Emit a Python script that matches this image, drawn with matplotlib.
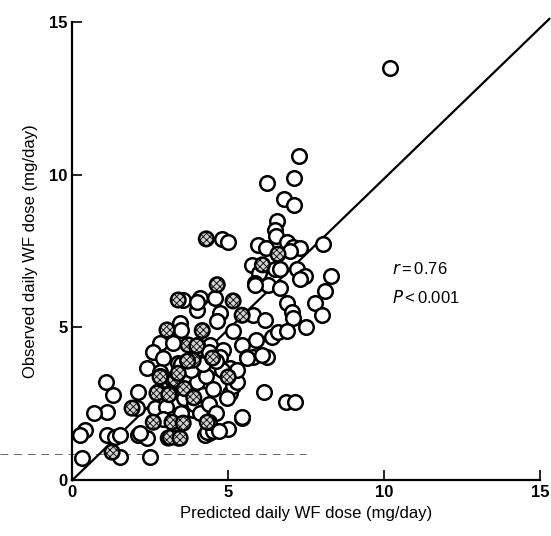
import matplotlib
matplotlib.use("Agg")
import matplotlib.pyplot as plt

# open circles: predicted vs observed (mg/day)
open_x = [10.2, 7.28, 6.25, 7.1, 6.8, 7.1, 6.57, 6.5, 6.54, 6.9, 7.08, 7.3, 5.96, 6.2, 7.0, 8.05,
          5.77, 6.0, 6.5, 6.67, 7.2, 7.47, 5.87, 6.28, 4.8, 5.0, 6.15, 6.86, 7.15, 5.45, 5.0,
          4.4, 4.26, 5.06, 5.16, 4.97, 5.3, 5.87, 6.67, 7.3, 4.1, 4.58, 4.0, 4.74, 5.8, 6.19,
          6.9, 7.05, 7.08, 4.65, 5.16, 6.4, 6.6, 6.9, 5.45, 4.42, 4.84, 4.74, 5.6, 5.8, 6.25,
          5.06, 4.52, 3.56, 4.0, 3.46, 3.5, 2.82, 3.24, 4.0, 2.6, 2.92, 2.4, 2.82, 3.4, 1.31,
          2.1, 3.2, 1.12, 2.08, 2.66, 3.14, 3.56, 3.88, 0.42, 0.26, 1.12, 1.38, 1.54, 2.1, 2.4,
          1.54, 0.32, 2.5, 2.18, 4.33, 4.52, 5.45, 8.3, 8.1, 7.8, 8.0, 7.5, 1.1, 0.7,
          3.0, 3.2, 3.4, 3.6, 3.8, 4.0, 4.2, 3.3, 3.6, 3.9, 4.1, 4.4, 3.0, 2.8, 3.5, 3.8,
          4.3, 4.5, 4.6, 4.4, 4.7, 3.2, 3.5, 2.9, 4.2, 4.4, 4.8, 4.6, 5.3, 5.6, 5.9, 6.1]
open_y = [13.5, 10.6, 9.74, 9.9, 9.2, 9.0, 8.5, 8.2, 8.0, 7.8, 7.64, 7.6, 7.7, 7.6, 7.5, 7.74,
          7.05, 6.8, 6.9, 6.9, 6.9, 6.7, 6.46, 6.4, 7.9, 7.8, 2.9, 2.56, 2.56, 2.03, 1.67,
          1.54, 1.48, 2.85, 3.1, 2.7, 3.2, 6.4, 6.3, 6.6, 5.97, 5.97, 5.57, 5.47, 5.4, 5.25,
          5.8, 5.5, 5.3, 5.2, 4.9, 4.7, 4.85, 4.9, 4.43, 4.43, 4.26, 4.03, 4.03, 4.03, 4.03,
          3.67, 3.7, 5.9, 5.85, 5.15, 4.92, 4.49, 4.49, 4.43, 4.2, 4.0, 3.67, 3.54, 3.84, 2.79,
          2.89, 2.85, 2.23, 2.36, 2.36, 2.39, 2.52, 2.3, 1.64, 1.48, 1.48, 1.41, 1.48, 1.48, 1.38,
          0.75, 0.72, 0.75, 1.54, 1.57, 1.6, 2.07, 6.7, 6.2, 5.8, 5.4, 5.0, 3.2, 2.2,
          3.0, 3.3, 3.1, 3.4, 3.0, 3.2, 2.8, 2.6, 2.7, 2.5, 2.2, 2.5, 2.4, 3.4, 3.8, 3.6,
          3.4, 3.0, 2.2, 1.9, 1.6, 2.0, 2.2, 2.0, 3.8, 4.2, 3.6, 3.9, 3.6, 4.0, 4.6, 4.1]

# hatched circles
hatch_x = [4.3, 6.6, 6.1, 4.65, 3.4, 5.16, 5.45, 3.04, 4.17, 3.72, 3.88, 2.76, 1.92, 2.6, 3.2,
           3.56, 3.08, 3.4, 1.28, 3.14, 3.46, 5.0, 2.82, 3.14, 2.72, 4.5, 4.33, 3.3, 3.6, 3.9,
           3.1, 4.0, 3.7, 3.4]
hatch_y = [7.9, 7.4, 7.05, 6.4, 5.9, 5.87, 5.4, 4.92, 4.9, 4.43, 3.93, 2.89, 2.36, 1.9, 1.9,
           1.87, 1.38, 1.38, 0.92, 1.4, 1.38, 3.38, 3.38, 2.85, 2.85, 4.0, 1.9, 3.3, 3.0, 2.7,
           2.8, 4.4, 3.9, 3.5]

fit_x = [0, 15.3]
slope = 0.987
cutoff = 0.85

plt.rcParams['font.family'] = ['Liberation Sans', 'DejaVu Sans']
plt.rcParams['hatch.linewidth'] = 0.6

fig = plt.figure(figsize=(5.51, 5.36), dpi=100)
ax = fig.add_axes([0.131, 0.104, 0.849, 0.855])

ax.plot([-2.3, 7.5], [cutoff, cutoff], color='#666666', lw=0.7,
        dashes=(8, 6), clip_on=False, zorder=1)
ax.plot(fit_x, [slope * v for v in fit_x], color='black', lw=1.6,
        clip_on=False, zorder=2)

ax.scatter(open_x, open_y, s=110, facecolors='white', edgecolors='black',
           linewidths=1.8, zorder=3)
ax.scatter(hatch_x, hatch_y, s=110, facecolors='#d0d0d0', edgecolors='black',
           linewidths=1.8, hatch='xxxxx', zorder=4)

ax.text(10.25, 6.9, r'$r$$\,$=$\,$0.76', fontsize=12, va='center')
ax.text(10.25, 5.97, r'$P$$\,$<$\,$0.001', fontsize=12, va='center')

ax.set_xlim(0, 15)
ax.set_ylim(0, 15)
ax.set_xticks([0, 5, 10, 15])
ax.set_yticks([0, 5, 10, 15])
ax.tick_params(direction='in', length=7, width=1.2, labelsize=12)
for lab in ax.get_xticklabels() + ax.get_yticklabels():
    lab.set_fontweight('bold')
ax.spines['top'].set_visible(False)
ax.spines['right'].set_visible(False)
ax.spines['left'].set_linewidth(1.6)
ax.spines['bottom'].set_linewidth(1.6)

ax.set_xlabel('Predicted daily WF dose (mg/day)', fontsize=12, labelpad=4)
ax.set_ylabel('Observed daily WF dose (mg/day)', fontsize=12, labelpad=8)

fig.savefig('out.png', dpi=100)
